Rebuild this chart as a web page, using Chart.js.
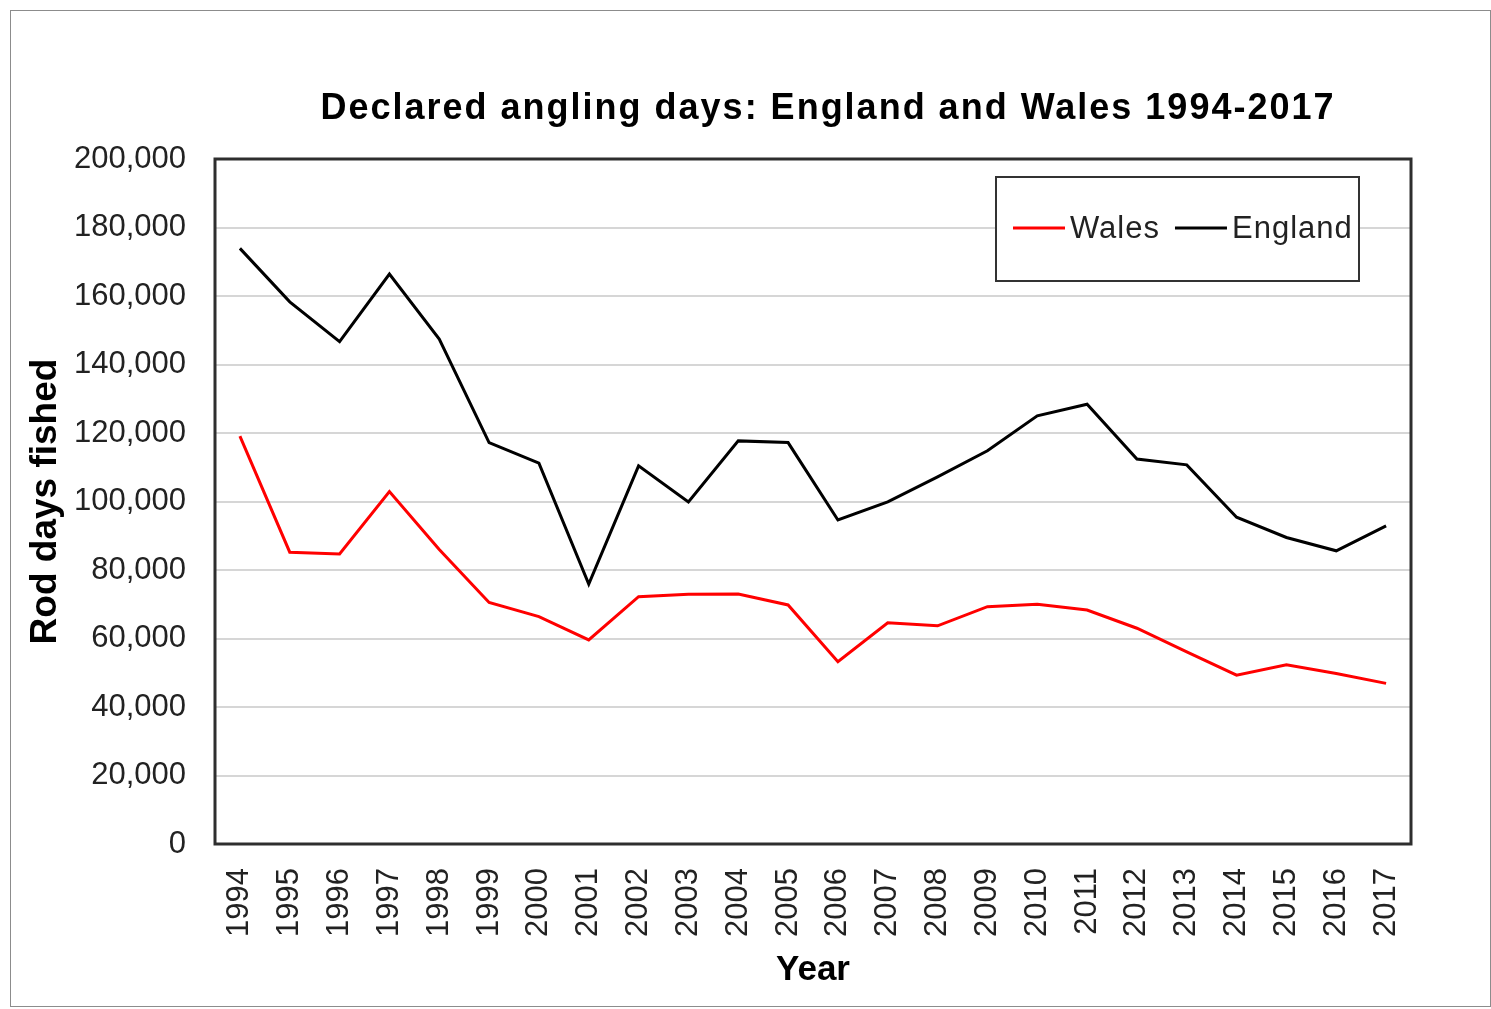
<!DOCTYPE html>
<html>
<head>
<meta charset="utf-8">
<title>Declared angling days</title>
<script src="https://cdn.jsdelivr.net/npm/chart.js@4.4.1/dist/chart.umd.min.js"></script>
<style>
  html, body { margin: 0; padding: 0; background: #fff; }
  #wrap { position: relative; width: 1491px; height: 1009px; }
</style>
</head>
<body>
<div id="wrap">
  <canvas id="anglingChart" width="1491" height="1009"></canvas>
</div>
<script>
// Dữ liệu
const years = ['1994', '1995', '1996', '1997', '1998', '1999', '2000', '2001', '2002', '2003', '2004', '2005',
  '2006', '2007', '2008', '2009', '2010', '2011', '2012', '2013', '2014', '2015', '2016', '2017'];
const walesDays = [119100, 85200, 84700, 102900, 86000, 70500, 66400, 59600, 72200, 72900, 73000, 69800,
  53200, 64600, 63700, 69300, 70000, 68300, 63000, 56100, 49300, 52300, 49800, 46900];
const englandDays = [173900, 158300, 146700, 166400, 147400, 117200, 111200, 75900, 110400, 99900, 117700, 117200,
  94600, 99900, 107200, 114800, 125000, 128400, 112400, 110700, 95400, 89500, 85600, 92900];
const yTicks = [0, 20000, 40000, 60000, 80000, 100000, 120000, 140000, 160000, 180000, 200000];

const FONT = "'Liberation Sans', Arial, sans-serif";

// Khung ngoài, tiêu đề, viền vùng vẽ và chú giải
const decorPlugin = {
  id: 'decor',
  beforeDraw(chart) {
    const ctx = chart.ctx;
    ctx.save();
    ctx.fillStyle = '#fff';
    ctx.fillRect(0, 0, chart.width, chart.height);
    ctx.strokeStyle = '#8c8c8c';
    ctx.lineWidth = 1;
    ctx.strokeRect(10.5, 10.5, chart.width - 11, chart.height - 13);
    ctx.restore();
  },
  afterDraw(chart) {
    const ctx = chart.ctx;
    const a = chart.chartArea;
    ctx.save();

    // tiêu đề
    ctx.font = 'bold 36px ' + FONT;
    ctx.letterSpacing = '2px';
    ctx.fillStyle = '#000';
    ctx.textAlign = 'center';
    ctx.textBaseline = 'alphabetic';
    ctx.fillText('Declared angling days: England and Wales 1994-2017', 828, 119);

    // viền vùng vẽ
    ctx.strokeStyle = '#2e2e2e';
    ctx.lineWidth = 3;
    ctx.strokeRect(a.left, a.top, a.right - a.left, a.bottom - a.top);

    // chú giải
    const bx = a.right - 415, by = a.top + 18, bw = 363, bh = 104;
    ctx.fillStyle = '#fff';
    ctx.fillRect(bx, by, bw, bh);
    ctx.strokeStyle = '#333';
    ctx.lineWidth = 2;
    ctx.strokeRect(bx, by, bw, bh);
    ctx.font = '31px ' + FONT;
    ctx.letterSpacing = '1px';
    ctx.textAlign = 'left';
    ctx.textBaseline = 'middle';
    const cy = by + 51;
    let x = bx + 17;
    chart.data.datasets.forEach((ds) => {
      ctx.strokeStyle = ds.borderColor;
      ctx.lineWidth = 3;
      ctx.beginPath();
      ctx.moveTo(x, cy);
      ctx.lineTo(x + 52, cy);
      ctx.stroke();
      x += 57;
      ctx.fillStyle = '#222';
      ctx.fillText(ds.label, x, cy + 1);
      x += ctx.measureText(ds.label).width + 15;
    });
    ctx.restore();
  }
};

new Chart(document.getElementById('anglingChart'), {
  type: 'line',
  data: {
    labels: years,
    datasets: [
      {
        label: 'Wales',
        data: walesDays,
        borderColor: '#ff0000',
        backgroundColor: '#ff0000',
        borderWidth: 3,
        pointRadius: 0,
        tension: 0
      },
      {
        label: 'England',
        data: englandDays,
        borderColor: '#000000',
        backgroundColor: '#000000',
        borderWidth: 3,
        pointRadius: 0,
        tension: 0
      }
    ]
  },
  options: {
    responsive: false,
    animation: false,
    layout: { padding: { top: 159, right: 80, left: 0, bottom: 0 } },
    plugins: {
      legend: { display: false },
      title: { display: false },
      tooltip: { enabled: false }
    },
    scales: {
      x: {
        offset: true,
        grid: { display: false },
        border: { display: false },
        ticks: {
          autoSkip: false,
          maxRotation: 90,
          minRotation: 90,
          padding: 16,
          color: '#222',
          font: { family: FONT, size: 31 }
        },
        title: {
          display: true,
          text: 'Year',
          color: '#000',
          font: { family: FONT, size: 35, weight: 'bold' },
          padding: { top: 0, bottom: 18 }
        },
        afterFit: s => { s.height = 165; }
      },
      y: {
        min: 0,
        max: 200000,
        afterBuildTicks: s => { s.ticks = yTicks.map(v => ({ value: v })); },
        grid: { color: '#d6d6d6', lineWidth: 2, drawTicks: false },
        border: { display: false },
        ticks: {
          padding: 29,
          color: '#222',
          font: { family: FONT, size: 31 },
          callback: v => v.toLocaleString('en-US')
        },
        title: {
          display: true,
          text: 'Rod days fished',
          color: '#000',
          font: { family: FONT, size: 37, weight: 'bold' },
          padding: { top: 24, bottom: 0 }
        },
        afterFit: s => { s.width = 215; }
      }
    }
  },
  plugins: [decorPlugin]
});
</script>
</body>
</html>
